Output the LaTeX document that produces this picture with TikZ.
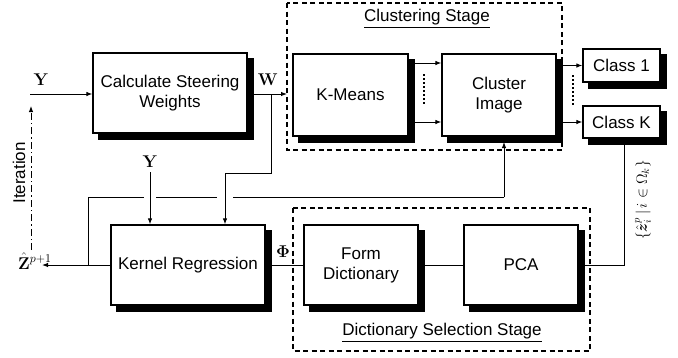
\RequirePackage{fix-cm}
\documentclass[tikz,border=0pt]{standalone}
\usepackage{amsmath,amssymb}
\usepackage[no-math]{fontspec}
\setmainfont{Liberation Sans}
\usetikzlibrary{arrows.meta,shadows}
\begin{document}
\begin{tikzpicture}[x=1pt,y=-1pt,
  font=\fontsize{17}{20}\selectfont,
  blk/.style={draw=black,line width=1.2pt,fill=white,align=center,inner sep=2pt,
    general shadow={shadow xshift=6pt,shadow yshift=-6pt,fill=black,draw=black}},
  stage/.style={draw=black,line width=1.4pt,dash pattern=on 5pt off 3.5pt},
  conn/.style={line width=1pt},
  arr/.style={conn,-{Latex[length=6pt,width=4.5pt]}},
  dots/.style={line width=2.6pt,dash pattern=on 2pt off 2pt},
  lbl/.style={inner sep=0pt}
]
\useasboundingbox (0,0) rectangle (678,357);

% stage frames
\draw[stage] (287,3) rectangle (562,150);
\draw[stage] (293,208) rectangle (590,351);
\node[lbl] (cs) at (427,19) {\underline{Clustering Stage}};
\node[lbl] (ds) at (442,333) {\underline{Dictionary Selection Stage}};

% blocks
\node[blk,minimum width=154pt,minimum height=80pt] (csw) at (170,93) {Calculate Steering\\Weights};
\node[blk,minimum width=115pt,minimum height=82pt] (km) at (350.5,95) {K-Means};
\node[blk,minimum width=114pt,minimum height=82pt] (ci) at (499,95) {Cluster\\Image};
\node[blk,minimum width=77pt,minimum height=33pt] (c1) at (621.5,65.5) {Class 1};
\node[blk,minimum width=77pt,minimum height=32pt] (ck) at (621.5,122) {Class K};
\node[blk,minimum width=154pt,minimum height=80pt] (kr) at (188,265) {Kernel Regression};
\node[blk,minimum width=114pt,minimum height=80pt] (fd) at (361,265) {Form\\Dictionary};
\node[blk,minimum width=114pt,minimum height=80pt] (pca) at (521,265) {PCA};

% coordinates
\coordinate (yin) at (30,94);
\coordinate (win) at (287,94);
\coordinate (wb) at (271,94);
\coordinate (wb2) at (271,173);
\coordinate (wb3) at (225,173);
\coordinate (wb4) at (225,180);
\coordinate (y2) at (150,172);
\coordinate (fbA) at (504,197);
\coordinate (fbB) at (504,142);
\coordinate (fbL) at (88,197);
\coordinate (fbD) at (88,265);
\coordinate (zout) at (42,265);
\coordinate (itA) at (31,250);
\coordinate (itB) at (31,106);
\coordinate (pr) at (624,265);
\coordinate (ckb) at (624,144);
\coordinate (ka) at (414,63);
\coordinate (kb) at (414,122);

% labels
\node[lbl] (ylab) at (41,80) {$\mathbf{Y}$};
\node[lbl] (wlab) at (268,80) {$\mathbf{W}$};
\node[lbl] (y2lab) at (150,162) {$\mathbf{Y}$};
\node[lbl] (phil) at (283,252) {$\mathbf{\Phi}$};
\node[lbl,anchor=west] (zlab) at (18,261) {$\hat{\mathbf{Z}}^{p+1}$};
\node[lbl,rotate=90] (itl) at (19,173) {Iteration};
\node[lbl,rotate=90,font=\fontsize{15}{17}\selectfont] (zset) at (643,200) {$\{\hat{\boldsymbol{z}}_i^{p}\,|\,i\in\Omega_k\}$};

% connectors
\draw[arr] (yin) -- (csw.west |- yin);
\draw[arr] (csw.east |- win) -- (win);
\draw[conn] (wb) -- (wb2) -- (wb3) -- (wb4);
\draw[arr] (ci.east |- c1) -- (c1.west);
\draw[arr] (ci.east |- ck) -- (ck.west);
\draw[arr] (ka) -- (ci.west |- ka);
\draw[arr] (kb) -- (ci.west |- kb);
\draw[dots] (424,74) -- (424,105);
\draw[dots] (573,75) -- (573,106);

% feedback line with gaps
\draw[conn] (fbA) -- (fbL) -- (fbD);
\draw[arr] (fbA) -- (fbB);
\draw[arr,preaction={draw=white,line width=12pt,arrows=-}] (y2) -- (kr.north -| y2);
\draw[arr,preaction={draw=white,line width=16pt,arrows=-}] (wb4) -- (kr.north -| wb4);
\draw[conn] (wb3) -- ([yshift=-2pt]wb4);

\draw[arr] (kr.west) -- (zout);
\draw[conn,dash pattern=on 7pt off 3pt on 1.5pt off 3pt,-{Latex[length=6pt,width=4.5pt]}] (itA) -- (itB);
\draw[conn] (kr.east) -- (fd.west);
\draw[conn] (fd.east) -- (pca.west);
\draw[conn] (pca.east) -- (pr) -- (ckb);
\end{tikzpicture}
\end{document}
